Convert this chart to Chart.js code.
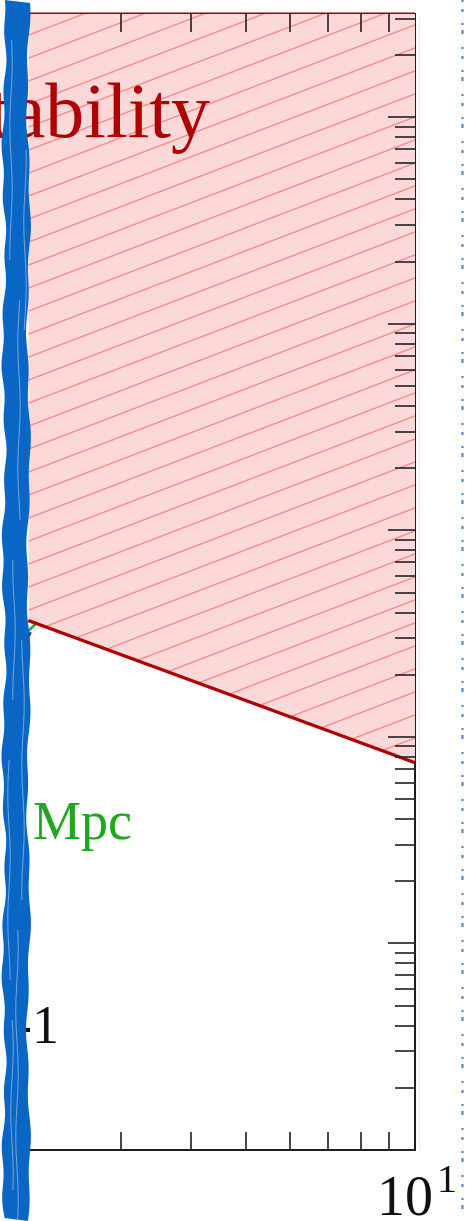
<!DOCTYPE html>
<html>
<head>
<meta charset="utf-8">
<script src="https://cdn.jsdelivr.net/npm/chart.js@4.4.1/dist/chart.umd.min.js"></script>
<style>
  html, body { margin: 0; padding: 0; background: #fff; overflow: hidden; }
  canvas { display: block; }
</style>
</head>
<body>
<canvas id="c" width="465" height="1221"></canvas>
<script>
// Axis ranges (log–log)
const xRange = [1.826, 10];
const yRange = [1e-3, 316.2];

// Instability boundary (power law, straight in log–log)
const boundaryX = [2.05, 10];
const boundaryY = [0.366, 0.075];

// Upper edge of the unstable region, along the top of the frame
const topEdgeX = [2.05, 10];
const topEdgeY = [316.2, 316.2];

// Short pieces of the green and blue curves meeting the boundary
const greenX = [2.05, 2.13];
const greenY = [0.325, 0.36];
const blueX = [2.05, 2.07];
const blueY = [0.304, 0.321];

// Tick values
const xMinorTicks = [2, 3, 4, 5, 6, 7, 8, 9];
const yDecadeExps = [-3, -2, -1, 0, 1, 2];
const yMinorMultipliers = [2, 3, 4, 5, 6, 7, 8, 9];

// Text drawn on the plot
const regionLabel = 'Instability';
const scaleLabel = 'Mpc';
const exponentLabel = '-1';
const xTickBase = '10';
const xTickExp = '1';

const pts = (xs, ys) => xs.map((x, i) => ({ x, y: ys[i] }));

// Pink hatch used for the unstable region
function makeHatch() {
  const W = 60, H = 23;
  const t = document.createElement('canvas');
  t.width = W; t.height = H;
  const g = t.getContext('2d');
  g.fillStyle = '#fdd8d8';
  g.fillRect(0, 0, W, H);
  g.strokeStyle = 'rgba(248,118,118,0.8)';
  g.lineWidth = 1.3;
  for (const off of [-H, 0, H]) {
    g.beginPath();
    g.moveTo(-W, 2 * H + off);
    g.lineTo(2 * W, -H + off);
    g.stroke();
  }
  return document.getElementById('c').getContext('2d').createPattern(t, 'repeat');
}

const frameAndTicks = {
  id: 'frameAndTicks',
  beforeDatasetsDraw(chart) {
    const { ctx, chartArea: a } = chart;
    ctx.save();
    // faint shadow right of the frame
    ctx.strokeStyle = '#ececec';
    ctx.lineWidth = 1;
    ctx.beginPath();
    ctx.moveTo(419.5, 17); ctx.lineTo(419.5, a.bottom);
    ctx.stroke();
    // frame
    ctx.strokeStyle = '#1e1e1e';
    ctx.lineWidth = 2;
    ctx.beginPath();
    ctx.moveTo(a.left + 8, a.top); ctx.lineTo(a.right, a.top);
    ctx.lineTo(a.right, a.bottom); ctx.lineTo(a.left + 8, a.bottom);
    ctx.stroke();
    ctx.restore();
  },
  afterDatasetsDraw(chart) {
    const { ctx, chartArea: a, scales: { x, y } } = chart;
    ctx.save();
    ctx.strokeStyle = '#2a2a2a';
    ctx.lineWidth = 1.7;
    // x ticks, inward on top and bottom
    for (const v of xMinorTicks) {
      const px = Math.round(x.getPixelForValue(v));
      ctx.beginPath();
      ctx.moveTo(px, a.top); ctx.lineTo(px, a.top + 18);
      ctx.moveTo(px, a.bottom); ctx.lineTo(px, a.bottom - 18);
      ctx.stroke();
    }
    // y ticks, inward on the right
    for (const e of yDecadeExps) {
      const base = Math.pow(10, e);
      const draw = (v, len) => {
        if (v < yRange[0] || v > yRange[1]) return;
        const py = Math.round(y.getPixelForValue(v));
        ctx.beginPath();
        ctx.moveTo(a.right, py); ctx.lineTo(a.right - len, py);
        ctx.stroke();
      };
      draw(base, 27);
      for (const m of yMinorMultipliers) draw(m * base, 20);
    }
    ctx.restore();

    // labels
    ctx.save();
    ctx.textBaseline = 'alphabetic';
    ctx.fillStyle = '#b00000';
    ctx.font = '78px "Liberation Serif", "DejaVu Serif", serif';
    ctx.textAlign = 'right';
    ctx.fillText(regionLabel, 210, 137);

    ctx.fillStyle = '#1fa81f';
    ctx.font = '54px "Liberation Serif", "DejaVu Serif", serif';
    ctx.textAlign = 'left';
    ctx.fillText(scaleLabel, 33, 839);

    ctx.fillStyle = '#111';
    ctx.textAlign = 'right';
    ctx.fillText(exponentLabel, 59, 1043);

    const tx = x.getPixelForValue(10);
    ctx.textAlign = 'left';
    ctx.font = '56px "Liberation Serif", "DejaVu Serif", serif';
    ctx.fillText(xTickBase, tx - 38, 1215);
    ctx.font = '40px "Liberation Serif", "DejaVu Serif", serif';
    ctx.fillText(xTickExp, tx + 22, 1192);
    ctx.restore();
  }
};

// Hand-drawn blue marker strokes over the left edge and the dotted guide on the right
const markerStrokes = {
  id: 'markerStrokes',
  afterDraw(chart) {
    const { ctx } = chart;
    const H = chart.height;
    ctx.save();
    ctx.fillStyle = '#0a66c4';
    ctx.beginPath();
    for (let yy = 0; yy <= H; yy += 6) {
      const xx = Math.max(4 + 1.5 * Math.sin(yy * 0.031) + 1.1 * Math.sin(yy * 0.113 + 1), 1.5);
      if (yy === 0) ctx.moveTo(xx, yy); else ctx.lineTo(xx, yy);
    }
    for (let yy = H; yy >= 0; yy -= 6) {
      const xx = 28.5 + 1.5 * Math.sin(yy * 0.027 + 2) + 1.0 * Math.sin(yy * 0.09);
      ctx.lineTo(xx, yy);
    }
    ctx.closePath();
    ctx.fill();

    // light gaps between the strokes
    const streaks = [
      [11, 40, 260], [19, 300, 520], [14, 560, 700], [23, 640, 900],
      [9, 760, 980], [17, 930, 1221], [25, 150, 330], [12, 1020, 1190]
    ];
    ctx.strokeStyle = 'rgba(225,236,250,0.6)';
    ctx.lineWidth = 0.8;
    for (const [sx, y0, y1] of streaks) {
      ctx.beginPath();
      for (let yy = y0; yy <= y1; yy += 5) {
        const xx = sx + 1.2 * Math.sin(yy * 0.05 + sx);
        if (yy === y0) ctx.moveTo(xx, yy); else ctx.lineTo(xx, yy);
      }
      ctx.stroke();
    }

    // dotted guide at the right edge
    ctx.strokeStyle = 'rgba(25,110,205,0.85)';
    ctx.lineWidth = 2;
    ctx.setLineDash([2, 7, 3, 11, 2, 5, 4, 13]);
    ctx.beginPath();
    ctx.moveTo(462.5, 0); ctx.lineTo(462.5, H);
    ctx.stroke();
    ctx.restore();
  }
};

new Chart(document.getElementById('c'), {
  type: 'line',
  data: {
    datasets: [
      {
        data: pts(boundaryX, boundaryY),
        borderColor: '#b00000',
        borderWidth: 3.4,
        backgroundColor: makeHatch(),
        fill: 'end',
        pointRadius: 0,
        tension: 0
      },
      {
        data: pts(topEdgeX, topEdgeY),
        borderColor: '#9a0000',
        borderWidth: 3,
        pointRadius: 0,
        fill: false,
        clip: false
      },
      {
        data: pts(greenX, greenY),
        borderColor: '#22a822',
        borderWidth: 2.5,
        pointRadius: 0,
        fill: false
      },
      {
        data: pts(blueX, blueY),
        borderColor: '#1a2fc0',
        borderWidth: 2.5,
        pointRadius: 0,
        fill: false
      }
    ]
  },
  options: {
    responsive: false,
    devicePixelRatio: 1,
    animation: false,
    layout: { padding: { left: 0, right: 50, top: 14, bottom: 71 } },
    plugins: { legend: { display: false }, tooltip: { enabled: false } },
    scales: {
      x: { type: 'logarithmic', min: xRange[0], max: xRange[1], display: false },
      y: { type: 'logarithmic', min: yRange[0], max: yRange[1], display: false }
    }
  },
  plugins: [frameAndTicks, markerStrokes]
});
</script>
</body>
</html>
